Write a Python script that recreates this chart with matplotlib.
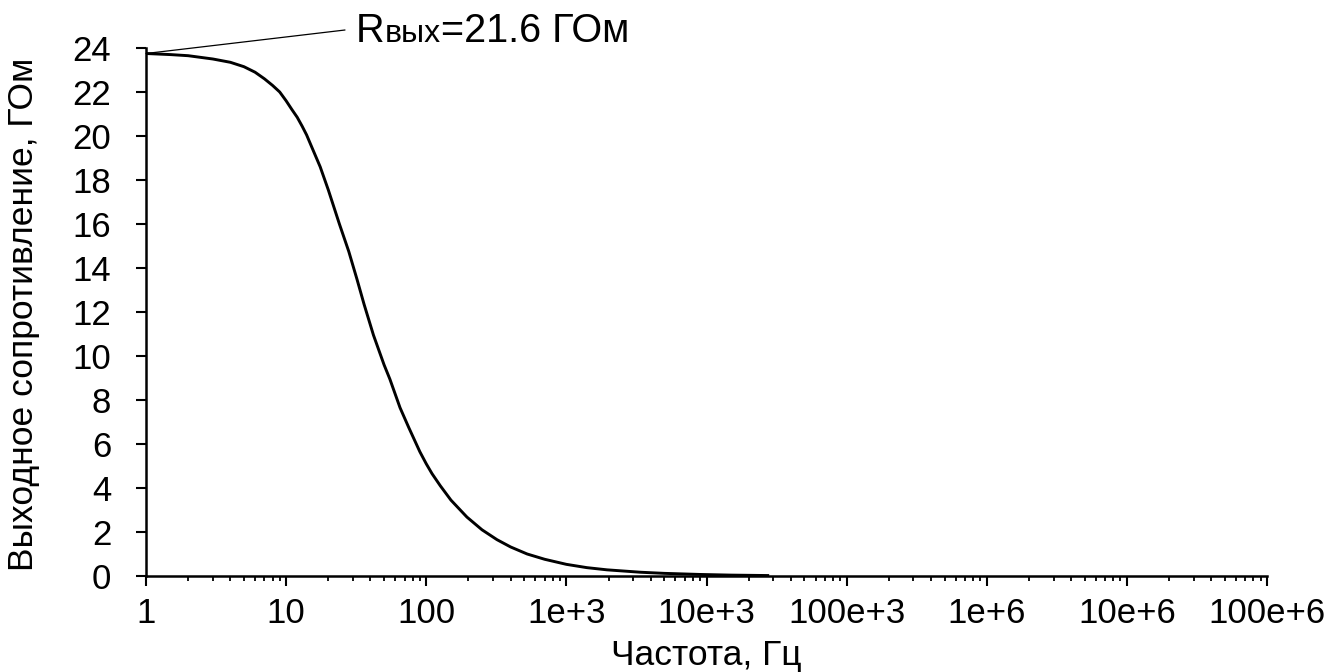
import matplotlib
matplotlib.use("Agg")
import matplotlib.pyplot as plt
from matplotlib.ticker import FixedLocator, FixedFormatter, LogLocator, NullFormatter
from matplotlib.offsetbox import TextArea, HPacker, AnnotationBbox

plt.rcParams['font.family'] = ['Liberation Sans', 'DejaVu Sans']

# Data
freq_hz = [1, 1.5, 2, 3, 4, 5, 6, 7, 8, 9, 10, 11, 12, 13, 14, 15, 17.5, 20, 24, 28, 32,
           36, 42, 50, 55, 65, 75, 90, 100, 110, 126, 150, 195, 250, 320, 400, 525, 700,
           1000, 1400, 1950, 3400, 5000, 9000, 15000, 28000]
r_out_gohm = [23.75, 23.7, 23.65, 23.5, 23.35, 23.15, 22.9, 22.6, 22.3, 22.0, 21.6, 21.2,
              20.85, 20.45, 20.05, 19.6, 18.6, 17.55, 16.0, 14.75, 13.5, 12.35, 10.95, 9.6,
              8.95, 7.65, 6.75, 5.65, 5.1, 4.65, 4.1, 3.45, 2.68, 2.1, 1.65, 1.32, 1.0, 0.76,
              0.53, 0.38, 0.28, 0.17, 0.12, 0.07, 0.04, 0.02]

x_tick_values = [1, 10, 100, 1e3, 1e4, 1e5, 1e6, 1e7, 1e8]
x_tick_labels = ['1', '10', '100', '1e+3', '10e+3', '100e+3', '1e+6', '10e+6', '100e+6']
y_tick_values = list(range(0, 25, 2))

W, H = 1344, 672
fig = plt.figure(figsize=(W / 100, H / 100), dpi=100)
ax = fig.add_axes([146 / W, 96 / H, 1121 / W, 528 / H])

ax.plot(freq_hz, r_out_gohm, color='black', lw=2.1, solid_capstyle='butt',
        solid_joinstyle='round')

ax.set_xscale('log')
ax.set_xlim(1, 1e8)
ax.set_ylim(0, 24)

ax.xaxis.set_major_locator(FixedLocator(x_tick_values))
ax.xaxis.set_major_formatter(FixedFormatter(x_tick_labels))
ax.xaxis.set_minor_locator(LogLocator(base=10, subs=range(2, 10), numticks=50))
ax.xaxis.set_minor_formatter(NullFormatter())
ax.set_yticks(y_tick_values)

for s in ['top', 'right']:
    ax.spines[s].set_visible(False)
for s in ['left', 'bottom']:
    ax.spines[s].set_linewidth(1.8)
    ax.spines[s].set_color('black')

ax.tick_params(axis='both', which='major', direction='out', length=7, width=1.5,
               labelsize=25, colors='black')
ax.tick_params(axis='x', which='minor', direction='out', length=3.5, width=1.3)
ax.tick_params(axis='x', which='major', pad=8)
ax.tick_params(axis='y', which='major', pad=18)

fig.text(24 / W, 1 - 314 / H, 'Выходное сопротивление, ГОм', rotation=90,
         ha='center', va='center', fontsize=25.5)
fig.text(706 / W, 1 - 655 / H, 'Частота, Гц', ha='center', va='center', fontsize=25.5)

# Annotation line from start of curve to label
ax.annotate('', xy=(freq_hz[0], r_out_gohm[0]), xycoords='data',
            xytext=(345, H - 30), textcoords='figure pixels',
            arrowprops=dict(arrowstyle='-', color='black', lw=0.9,
                            shrinkA=0, shrinkB=0))

ta1 = TextArea('R', textprops=dict(fontsize=28.5, color='black'))
ta2 = TextArea('вых', textprops=dict(fontsize=23, color='black'))
ta3 = TextArea('=21.6 ГОм', textprops=dict(fontsize=28.5, color='black'))
pack = HPacker(children=[ta1, ta2, ta3], align='baseline', pad=0, sep=0)
ab = AnnotationBbox(pack, (356, H - 31), xycoords='figure pixels',
                    box_alignment=(0, 0.5), frameon=False, pad=0)
ax.add_artist(ab)
ab.set_clip_on(False)

fig.savefig('out.png', dpi=100)
